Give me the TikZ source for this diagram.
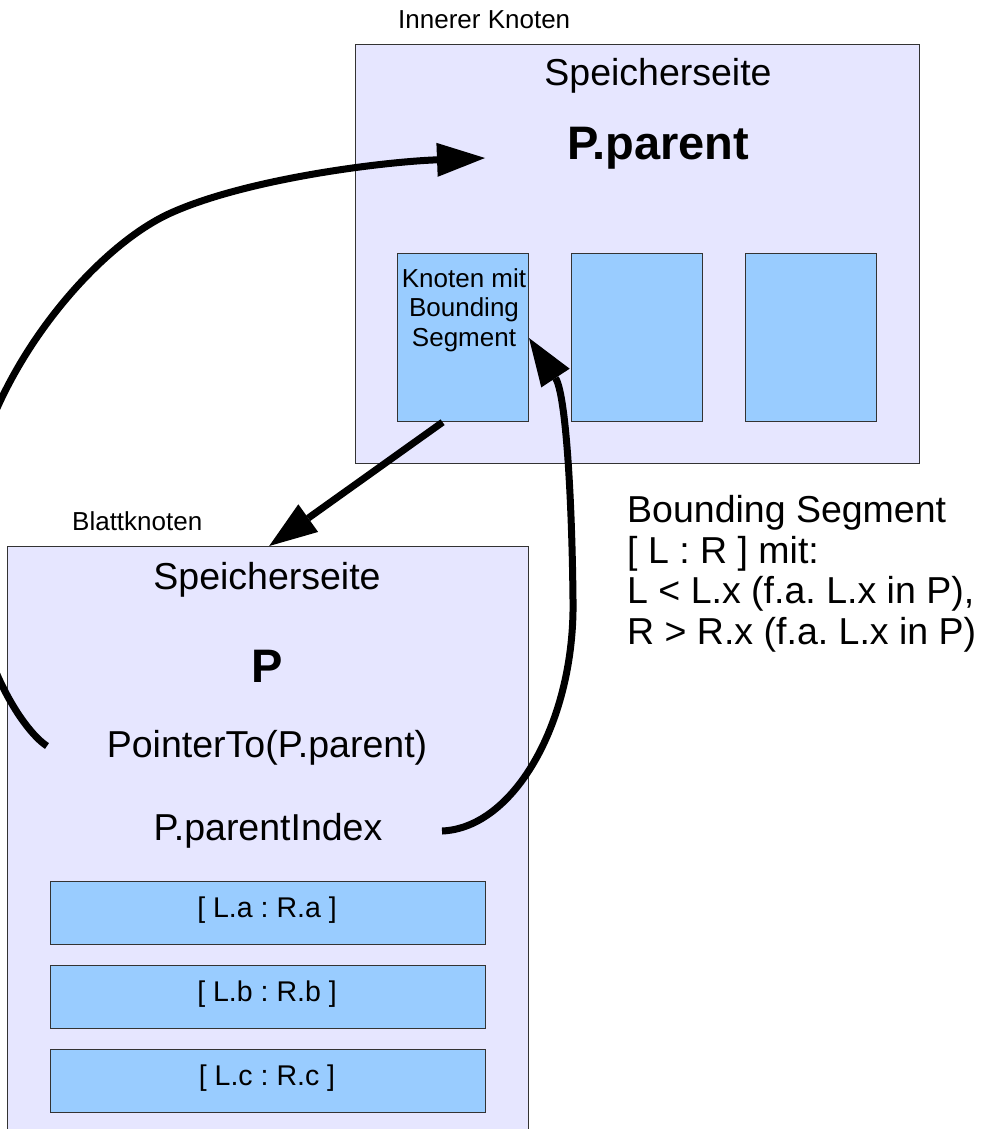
\documentclass[tikz,border=0pt]{standalone}
\usepackage{fontspec}
\setmainfont{Liberation Sans}
\usetikzlibrary{arrows.meta}
\frenchspacing
\definecolor{lav}{HTML}{E6E6FF}
\definecolor{sky}{HTML}{99CCFF}
\definecolor{edge}{HTML}{333333}
\tikzset{
  page/.style={draw=edge, line width=1.3pt, fill=lav, inner sep=0pt, anchor=north west},
  slot/.style={draw=edge, line width=1.2pt, fill=sky, inner sep=0pt, anchor=north west},
  txt/.style={inner sep=0pt, anchor=base},
  big/.style={txt, font=\fontsize{37.5}{42}\selectfont},
  heavy/.style={txt, font=\fontsize{47}{52}\selectfont\bfseries},
  small/.style={txt, font=\fontsize{26}{30}\selectfont},
  entry/.style={txt, font=\fontsize{28.5}{32}\selectfont},
  link/.style={line width=7pt, -{Triangle[length=48pt,width=34pt,line width=0pt]}},
}
\begin{document}
\begin{tikzpicture}[x=1pt,y=-1pt]
\useasboundingbox (0,0) rectangle (984,1129);
\clip (0,0) rectangle (984,1129);
\fill[white] (0,0) rectangle (984,1129);

% inner node page with its three entries
\node[small, anchor=base west] (innerlbl) at (398,29) {Innerer Knoten};
\node[page, minimum width=564pt, minimum height=419pt] (inner) at (355,44) {};
\node[big] (innersp) at (658,86) {Speicherseite};
\node[heavy] (innerp) at (658,159) {P.parent};
\node[slot, minimum width=131pt, minimum height=168pt] (b1) at (397,253) {};
\node[slot, minimum width=131pt, minimum height=168pt] (b2) at (571,253) {};
\node[slot, minimum width=131pt, minimum height=168pt] (b3) at (745,253) {};
\node[small] (b1l1) at (464,287) {Knoten mit};
\node[small] (b1l2) at (464,316.5) {Bounding};
\node[small] (b1l3) at (464,346) {Segment};

% leaf page
\node[small, anchor=base west] (leaflbl) at (72,530) {Blattknoten};
\node[page, minimum width=521pt, minimum height=620pt] (leaf) at (7,546) {};
\node[big] (leafsp) at (267,589) {Speicherseite};
\node[heavy] (leafp) at (267,682) {P};
\node[big] (ptr) at (267,757) {PointerTo(P.parent)};
\node[big] (idx) at (268,840) {P.parentIndex};
\node[slot, minimum width=435pt, minimum height=63pt] (sa) at (50,881) {};
\node[slot, minimum width=435pt, minimum height=63pt] (sb) at (50,965) {};
\node[slot, minimum width=435pt, minimum height=63pt] (sc) at (50,1049) {};
\node[entry] (sal) at (267,917) {[ L.a : R.a ]};
\node[entry] (sbl) at (267,1001) {[ L.b : R.b ]};
\node[entry] (scl) at (267,1085) {[ L.c : R.c ]};

% explanation
\node[big, anchor=base west] (bs1) at (627,522) {Bounding Segment};
\node[big, anchor=base west] (bs2) at (627,563) {[ L : R ] mit:};
\node[big, anchor=base west] (bs3) at (627,603) {L < L.x (f.a. L.x in P),};
\node[big, anchor=base west] (bs4) at (627,644) {R > R.x (f.a. L.x in P)};

% connectors
\coordinate (ptrS) at (47,746);
\coordinate (ptrT) at (485,158);
\coordinate (idxS) at (442,831);
\coordinate (idxT) at (529,338);
\draw[link] (ptrS) .. controls (22,730) and (-32,650) .. (-32,530)
  .. controls (-32,400) and (85,250) .. (173,212)
  .. controls (248,179) and (380,162) .. (ptrT);
\draw[link] (idxS) .. controls (515,828) and (575,720) .. (573,600)
  .. controls (572,500) and (566,394) .. (idxT);
\draw[link] ([xshift=-20.5pt]b1.south) -- ([xshift=1pt]leaf.north);
\end{tikzpicture}
\end{document}
